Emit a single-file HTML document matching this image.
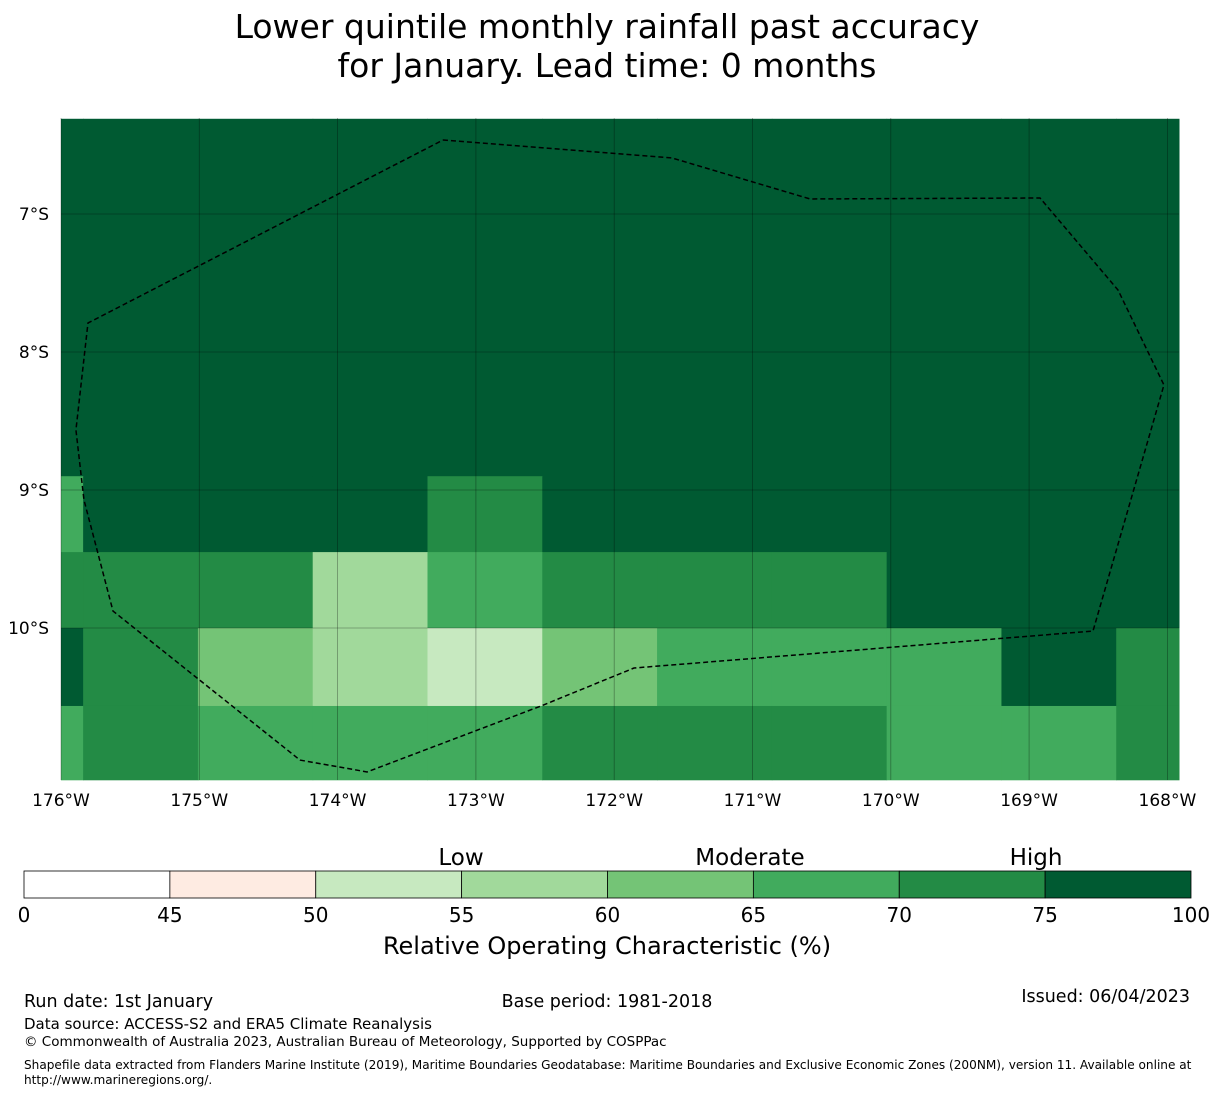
<!DOCTYPE html>
<html><head><meta charset="utf-8"><style>
body{margin:0;background:#fff;font-family:"Liberation Sans","DejaVu Sans",sans-serif;}
svg text{font-family:"DejaVu Sans","Liberation Sans",sans-serif;}
</style></head><body>
<svg id="chart" width="1215" height="1095" xmlns="http://www.w3.org/2000/svg">
<text x="607" y="38" font-size="33" text-anchor="middle">Lower quintile monthly rainfall past accuracy</text>
<text x="607" y="77" font-size="33" text-anchor="middle">for January. Lead time: 0 months</text>
<g id="map"></g>
<g id="cbar"></g>
<text x="461" y="865" font-size="23" text-anchor="middle">Low</text>
<text x="750" y="865" font-size="23" text-anchor="middle">Moderate</text>
<text x="1036" y="865" font-size="23" text-anchor="middle">High</text>
<text x="607" y="954" font-size="24" text-anchor="middle">Relative Operating Characteristic (%)</text>
<text x="24" y="1007" font-size="17.5">Run date: 1st January</text>
<text x="607" y="1007" font-size="17.5" text-anchor="middle">Base period: 1981-2018</text>
<text x="1190" y="1002" font-size="17.5" text-anchor="end">Issued: 06/04/2023</text>
<text x="24" y="1029" font-size="15">Data source: ACCESS-S2 and ERA5 Climate Reanalysis</text>
<text x="24" y="1046" font-size="13.5">© Commonwealth of Australia 2023, Australian Bureau of Meteorology, Supported by COSPPac</text>
<text x="24" y="1069" font-size="12.1">Shapefile data extracted from Flanders Marine Institute (2019), Maritime Boundaries Geodatabase: Maritime Boundaries and Exclusive Economic Zones (200NM), version 11. Available online at</text>
<text x="24" y="1084" font-size="12.1">http://www.marineregions.org/.</text>
</svg>
<script>
// data
const colEdgesLon = [-176, -175.84, -175.01, -174.18, -173.35, -172.52, -171.69, -170.86, -170.03, -169.20, -168.37, -167.91];
const rowEdgesLat = [-6.31, -8.90, -9.45, -10.0, -10.565, -11.1];
const rocValues = [
 [77,77,77,77,77,77,77,77,77,77,77],
 [67,77,77,77,72,77,77,77,77,77,77],
 [72,72,72,57,67,72,72,72,77,77,77],
 [77,72,62,57,52,62,67,67,67,77,72],
 [67,72,67,67,67,72,72,72,67,67,72]
];
const lonTicks = [-176,-175,-174,-173,-172,-171,-170,-169,-168];
const latTicks = [-7,-8,-9,-10];
const cbarBounds = [0,45,50,55,60,65,70,75,100];
const cbarColors = ["#ffffff","#feebe2","#c7e9c0","#a1d99b","#74c476","#41ab5d","#238b45","#005a32"];
const eezLon = [-173.238,-171.582,-170.584,-168.921,-168.357,-168.025,-168.538,-171.857,-172.529,-173.787,-174.272,-175.624,-175.834,-175.892,-175.805,-173.238];
const eezLat = [-6.464,-6.594,-6.891,-6.884,-7.551,-8.239,-10.022,-10.290,-10.565,-11.043,-10.957,-9.877,-9.072,-8.565,-7.790,-6.464];

const NS="http://www.w3.org/2000/svg";
const X=lon=>61+(lon+176)*138.3;
const Y=lat=>214+(-7-lat)*138;
function colorFor(v){for(let i=0;i<cbarColors.length;i++){if(v<cbarBounds[i+1])return cbarColors[i];}return cbarColors[cbarColors.length-1];}
function mk(tag,attrs,parent){const e=document.createElementNS(NS,tag);for(const k in attrs)e.setAttribute(k,attrs[k]);parent.appendChild(e);return e;}
const map=document.getElementById('map');
const clipX0=61,clipX1=1179,clipY0=118,clipY1=780;
for(let r=0;r<rocValues.length;r++){for(let c=0;c<rocValues[r].length;c++){
 const x0=Math.max(clipX0,X(colEdgesLon[c])),x1=Math.min(clipX1,X(colEdgesLon[c+1]));
 const y0=Math.max(clipY0,Y(rowEdgesLat[r])),y1=Math.min(clipY1,Y(rowEdgesLat[r+1]));
 const e=mk('rect',{x:x0,y:y0,width:x1-x0+0.5,height:y1-y0+0.5,fill:colorFor(rocValues[r][c])},map);
 
 
}}
lonTicks.forEach(l=>{
 const x=X(l);
 const g=mk('line',{x1:x,x2:x,y1:clipY0,y2:clipY1,stroke:'#000','stroke-opacity':0.35,'stroke-width':0.8},map);
 
 
 const t=mk('text',{x:x,y:806,'font-size':17,'text-anchor':'middle'},map);t.textContent=Math.abs(l)+'°W';
 
 
});
latTicks.forEach(l=>{
 const y=Y(l);
 const g=mk('line',{x1:clipX0,x2:clipX1,y1:y,y2:y,stroke:'#000','stroke-opacity':0.35,'stroke-width':0.8},map);
 
 
 const t=mk('text',{x:49,y:y+6,'font-size':17,'text-anchor':'end'},map);t.textContent=Math.abs(l)+'°S';
 
 
});
const pts=eezLon.map((l,i)=>X(l)+','+Y(eezLat[i])).join(' ');
const eez=mk('polyline',{points:pts,fill:'none',stroke:'#000','stroke-width':1.5,'stroke-dasharray':'5,3'},map);


const cb=document.getElementById('cbar');
const cx0=24,cw=1167/(cbarColors.length);
cbarColors.forEach((c,i)=>{
 const r=mk('rect',{x:cx0+i*cw,y:871,width:cw,height:27,fill:c,stroke:'#000','stroke-width':0.8},cb);
 
 
});
cbarBounds.forEach((b,i)=>{
 const t=mk('text',{x:cx0+i*cw,y:922,'font-size':20,'text-anchor':'middle'},cb);t.textContent=b;
 
 
});
</script>
</body></html>
